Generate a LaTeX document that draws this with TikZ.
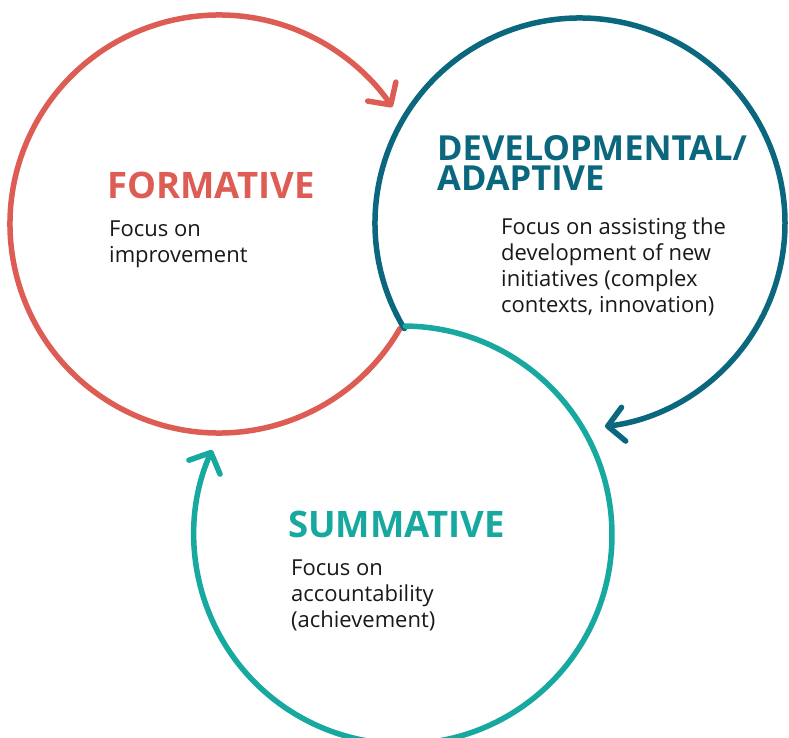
\documentclass[tikz,border=0pt]{standalone}
\usepackage{fontspec}
\setmainfont{Open Sans}
\usetikzlibrary{arrows.meta}
\definecolor{cred}{RGB}{221,93,85}
\definecolor{cdev}{RGB}{10,103,126}
\definecolor{csum}{RGB}{23,168,160}
\definecolor{ctext}{RGB}{25,25,25}
\begin{document}
\begin{tikzpicture}[x=1pt,y=-1pt,
  ring/.style={line width=5.5pt, line cap=round, -{Straight Barb[length=16pt,width=34pt,round]}},
  title/.style={font={\fontsize{36.5}{30}\selectfont\bfseries}, inner sep=0pt, anchor=base west, align=left},
  body/.style={font={\fontsize{22}{26}\selectfont}, text=ctext, inner sep=0pt, anchor=base west, align=left}]
\clip (0,0) rectangle (789,738);
\fill[white] (0,0) rectangle (789,738);
\coordinate (cF) at (219,224);
\coordinate (cD) at (580,223);
\coordinate (cS) at (403,535);
\draw[ring, cred] (cF) ++(30:209) arc[start angle=30, end angle=326, radius=209];
\draw[ring, cdev] (cD) ++(149:205) arc[start angle=149, end angle=443, radius=205];
\draw[ring, csum] (cS) ++(270.6:209) arc[start angle=270.6, end angle=564, radius=209];
\node[title, text=cred] (ft) at (107,198) {FORMATIVE};
\node[body] (fb) at (109,262) {Focus on\\improvement};
\node[title, text=cdev, font={\fontsize{34.5}{30}\selectfont\bfseries}] (dt) at (437,190) {DEVELOPMENTAL/\\ADAPTIVE};
\node[body] (db) at (501,312) {Focus on assisting the\\development of new\\initiatives (complex\\contexts, innovation)};
\node[title, text=csum] (st) at (288,537) {SUMMATIVE};
\node[body] (sb) at (291,627) {Focus on\\accountability\\(achievement)};
\end{tikzpicture}
\end{document}
